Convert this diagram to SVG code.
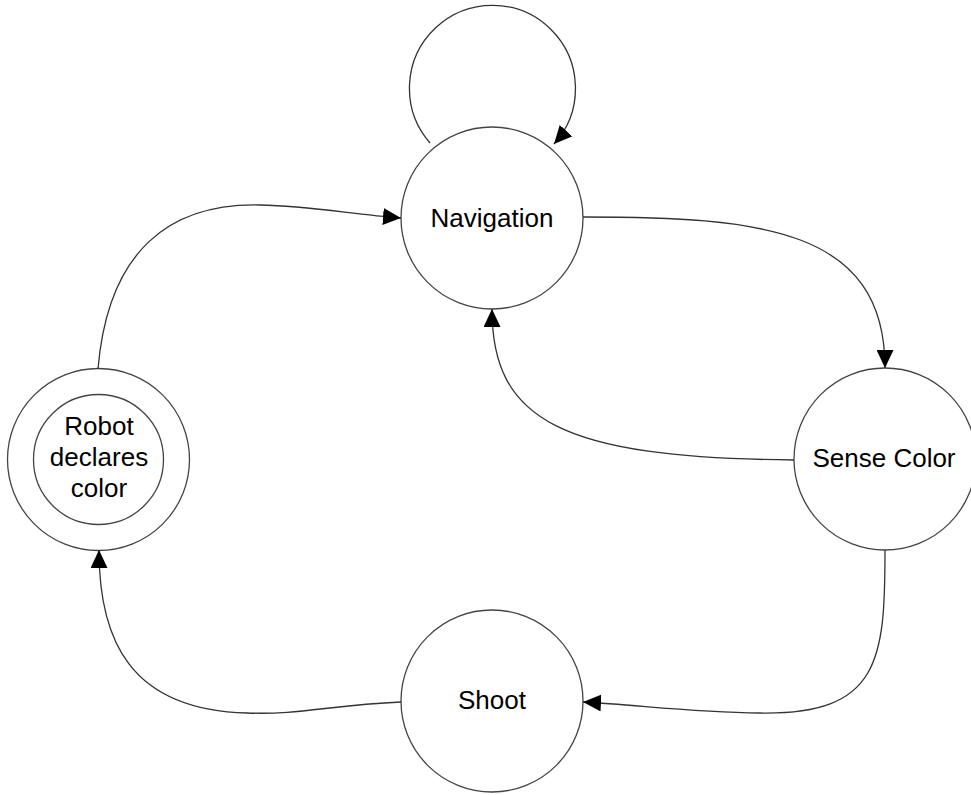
<svg xmlns="http://www.w3.org/2000/svg" width="971" height="795" viewBox="0 0 971 795">
<style>
.node{fill:#fff;stroke:#444;stroke-width:1.3}
.edge{fill:none;stroke:#333;stroke-width:1.3}
.lbl{font-family:"Liberation Sans",Arial,sans-serif;font-size:26px;fill:#000;text-anchor:middle}
</style>
<defs>
<marker id="arr" markerWidth="18" markerHeight="17" refX="18" refY="8.5" orient="auto" markerUnits="userSpaceOnUse">
<path d="M0,0 L18,8.5 L0,17 z" fill="#000"/>
</marker>
</defs>
<rect width="971" height="795" fill="#fff"/>
<g id="nav">
<circle class="node" cx="492" cy="218" r="91"/>
<text class="lbl" x="492" y="227">Navigation</text>
</g>
<g id="sense">
<circle class="node" cx="885" cy="459" r="91"/>
<text class="lbl" x="884" y="467">Sense Color</text>
</g>
<g id="shoot">
<circle class="node" cx="492" cy="701" r="91"/>
<text class="lbl" x="492" y="709">Shoot</text>
</g>
<g id="robot">
<circle class="node" cx="98.5" cy="459.5" r="91"/>
<circle class="node" cx="98.5" cy="459.5" r="65"/>
<text class="lbl" x="99" y="435">Robot</text>
<text class="lbl" x="99" y="466">declares</text>
<text class="lbl" x="99" y="497">color</text>
</g>
<g id="connectors">
<path class="edge" marker-end="url(#arr)" d="M430,143 A83 83 0 1 1 554,144"/>
<path class="edge" marker-end="url(#arr)" d="M98,369 C108,250 170,203 260,205 C310,206 350,214 401,218"/>
<path class="edge" marker-end="url(#arr)" d="M583,217 C760,217 885,228 885,368"/>
<path class="edge" marker-end="url(#arr)" d="M794,460 C560,458 492,420 492,309"/>
<path class="edge" marker-end="url(#arr)" d="M885,550 C885,660 880,715 760,713 C690,712 640,705 583,702"/>
<path class="edge" marker-end="url(#arr)" d="M401,702 C330,705 300,715 247,713 C130,710 99,640 99,550"/>
</g>
</svg>
